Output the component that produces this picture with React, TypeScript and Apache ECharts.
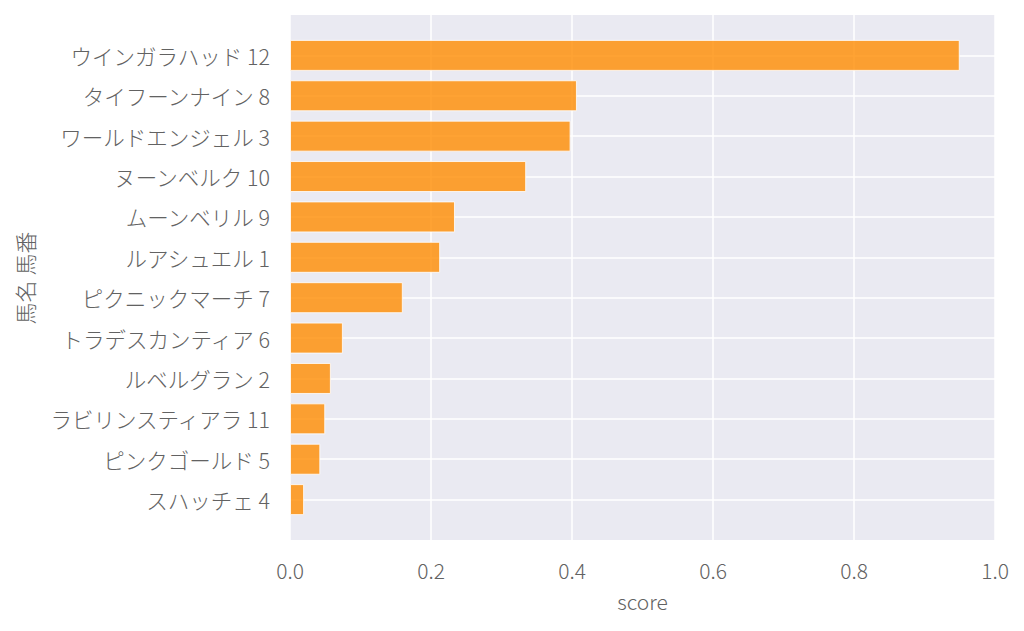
import React, { useEffect, useRef } from "react";
import * as echarts from "echarts";

const horseNames: string[] = [
  "ウインガラハッド 12",
  "タイフーンナイン 8",
  "ワールドエンジェル 3",
  "ヌーンベルク 10",
  "ムーンベリル 9",
  "ルアシュエル 1",
  "ピクニックマーチ 7",
  "トラデスカンティア 6",
  "ルベルグラン 2",
  "ラビリンスティアラ 11",
  "ピンクゴールド 5",
  "スハッチェ 4",
];

const scores: number[] = [
  0.95, 0.407, 0.398, 0.335, 0.234, 0.213, 0.16, 0.075, 0.058, 0.05, 0.043, 0.02,
];

const xTicks: number[] = [0, 0.2, 0.4, 0.6, 0.8, 1.0];

const yAxisTitle = "馬名 馬番";
const xAxisTitle = "score";

const FONT =
  "'Noto Sans CJK JP Light', 'Noto Sans CJK JP DemiLight', 'Noto Sans CJK JP', 'Noto Sans', sans-serif";
const TEXT_COLOR = "#626262";

export default function App() {
  const ref = useRef<HTMLDivElement>(null);

  useEffect(() => {
    if (!ref.current) return;
    const chart = echarts.init(ref.current, undefined, { renderer: "svg" });
    const cats = ["", ...horseNames, ""];
    const data: (number | string)[] = ["-", ...scores, "-"];
    const last = cats.length - 1;
    chart.setOption({
      animation: false,
      backgroundColor: "#ffffff",
      textStyle: { fontFamily: FONT },
      grid: {
        left: 290,
        right: 29,
        top: 15,
        bottom: 91,
        show: true,
        backgroundColor: "#EAEAF2",
        borderWidth: 0,
        containLabel: false,
      },
      graphic: [
        {
          type: "text",
          x: 24,
          y: 278,
          rotation: Math.PI / 2,
          style: {
            text: yAxisTitle,
            fill: TEXT_COLOR,
            fontSize: 22,
            fontWeight: 300,
            fontFamily: FONT,
            align: "center",
            verticalAlign: "middle",
          },
        },
      ],
      xAxis: {
        type: "value",
        min: xTicks[0],
        max: xTicks[xTicks.length - 1],
        interval: 0.2,
        name: xAxisTitle,
        nameLocation: "middle",
        nameGap: 50,
        nameTextStyle: { color: TEXT_COLOR, fontSize: 21, fontWeight: 300, fontFamily: FONT },
        axisLine: { show: false },
        axisTick: { show: false },
        axisLabel: {
          color: TEXT_COLOR,
          fontSize: 21,
          fontWeight: 300,
          fontFamily: FONT,
          margin: 19,
          formatter: (v: number) => v.toFixed(1),
        },
        splitLine: { show: true, lineStyle: { color: "#ffffff", width: 1.5 } },
      },
      yAxis: {
        type: "category",
        data: cats,
        inverse: true,
        boundaryGap: false,
        axisLine: { show: false },
        axisTick: { show: false },
        axisLabel: {
          color: TEXT_COLOR,
          fontSize: 21.5,
          fontWeight: 300,
          fontFamily: FONT,
          margin: 20,
          interval: 0,
        },
        splitLine: {
          show: true,
          interval: (i: number) => i > 0 && i < last,
          lineStyle: { color: "#ffffff", width: 1.5 },
        },
      },
      series: [
        {
          type: "bar",
          data,
          barWidth: 31,
          itemStyle: {
            color: "rgba(255,140,0,0.8)",
            borderColor: "rgba(255,255,255,0.8)",
            borderWidth: 1,
          },
        },
      ],
    });
    return () => chart.dispose();
  }, []);

  return (
    <div
      ref={ref}
      style={{ position: "fixed", left: 0, top: 0, width: 1024, height: 631 }}
    />
  );
}
